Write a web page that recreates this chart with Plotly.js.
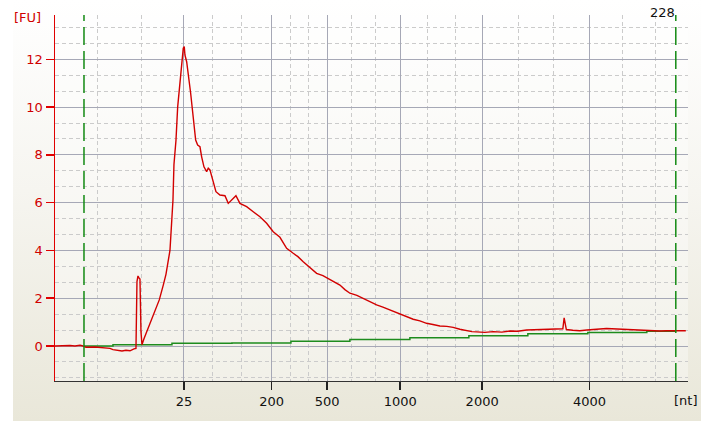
<!DOCTYPE html>
<html>
<head>
<meta charset="utf-8">
<script src="https://cdn.plot.ly/plotly-3.0.1.min.js"></script>
<style>
  html, body { margin: 0; padding: 0; background: #ffffff; }
  #panel { position: absolute; left: 13px; top: 0; width: 688px; height: 421px;
           background: linear-gradient(to bottom, #ffffff 0%, #f6f5f0 45%, #e9e7d9 100%); }
  #chart { position: absolute; left: 0; top: 0; width: 701px; height: 426px; }
</style>
</head>
<body>
<div id="panel"></div>
<div id="chart"></div>
<script>
// Migration time (s) and fluorescence (FU) of the sample trace
const migTime = [18.0, 18.5, 19.0, 19.5, 20.0, 20.5, 20.8, 21.1, 22.0, 23.0, 23.5, 23.8, 24.3, 24.7, 25.1, 25.5, 25.9, 26.1,
  26.2, 26.3, 26.4, 26.5, 26.6, 26.7, 26.9, 27.4, 27.9, 28.43, 28.83, 29.1, 29.3, 29.5, 29.6, 29.7, 29.8, 29.9, 30.1,
  30.27, 30.5, 30.67, 30.83, 30.93, 31.0, 31.17, 31.27, 31.43, 31.57, 31.73, 31.9, 32.07, 32.27, 32.5, 32.67, 32.9,
  33.17, 33.33, 33.5, 33.67, 33.83, 34.1, 34.5, 35.0, 35.33, 35.67, 36.1, 36.5, 37.17, 37.83, 38.5, 39.17, 39.83, 40.5,
  41.17, 41.83, 42.3, 42.83, 43.5, 44.17, 44.8, 45.33, 45.9, 46.5, 47.0, 47.5, 48.2, 48.83, 49.5, 50.17, 50.8, 51.5,
  52.2, 52.83, 53.3, 53.83, 54.5, 55.17, 55.8, 56.5, 57.2, 57.83, 58.5, 59.17, 59.7, 60.17, 61.0, 61.83, 62.7, 63.5,
  64.3, 65.17, 66.0, 66.83, 67.7, 68.5, 68.8, 68.93, 69.05, 69.15, 69.8, 70.5, 71.2, 71.83, 72.5, 73.17, 73.8, 74.5,
  75.2, 75.83, 76.5, 77.17, 77.8, 78.5, 79.2, 79.83, 80.5, 81.1];
const fluor = [0.0, 0.01, -0.01, 0.02, 0.0, 0.03, 0.0, -0.05, -0.04, -0.06, -0.1, -0.15, -0.17, -0.21, -0.18, -0.2, -0.12, -0.1,
  2.7, 2.93, 2.85, 2.8, 0.6, 0.05, 0.3, 0.81, 1.4, 1.93, 2.55, 3.0, 3.5, 4.0, 4.7, 5.4, 6.1, 7.6, 8.6,
  10.0, 11.13, 11.83, 12.46, 12.53, 12.18, 11.9, 11.62, 11.13, 10.58, 9.95, 9.32, 8.62, 8.41, 8.34, 7.92, 7.5,
  7.3, 7.44, 7.37, 7.09, 6.81, 6.46, 6.32, 6.29, 5.97, 6.11, 6.29, 5.97, 5.83, 5.62, 5.41, 5.14, 4.78, 4.55,
  4.09, 3.88, 3.74, 3.53, 3.27, 3.04, 2.95, 2.83, 2.7, 2.55, 2.36, 2.21, 2.12, 2.0, 1.84, 1.72, 1.63, 1.51,
  1.4, 1.3, 1.22, 1.12, 1.05, 0.95, 0.9, 0.84, 0.82, 0.78, 0.7, 0.64, 0.6, 0.59, 0.57, 0.6, 0.58, 0.63,
  0.62, 0.67, 0.68, 0.7, 0.69, 0.7, 0.72, 1.18, 0.95, 0.69, 0.66, 0.64, 0.67, 0.7, 0.71, 0.73, 0.72, 0.71,
  0.69, 0.67, 0.66, 0.64, 0.65, 0.63, 0.64, 0.63, 0.62, 0.64];

// Baseline (step) trace
const baseTime = [20.9, 23.8, 29.7, 35.7, 41.6, 47.5, 53.5, 59.4, 65.3, 71.3, 77.2, 80.1];
const baseFU   = [0.0, 0.05, 0.11, 0.13, 0.2, 0.27, 0.35, 0.43, 0.51, 0.57, 0.62, 0.62];

// Marker positions (green dashed lines)
const markerTimes = [20.9, 80.1];

// Size ladder tick positions and labels
const tickTimes  = [30.9, 39.67, 45.23, 52.53, 60.73, 71.47];
const tickLabels = ['25', '200', '500', '1000', '2000', '4000'];
const minorTimes = [22.3, 26.67, 33.8, 36.67, 41.53, 43.4, 47.67, 50.1, 55.27, 58.03, 64.33, 67.9, 74.73, 78.07, 81.3];

const traces = [
  { x: baseTime, y: baseFU, type: 'scatter', mode: 'lines', line: { color: '#1e8c1e', width: 1.5, shape: 'hv' }, hoverinfo: 'skip' },
  { x: migTime, y: fluor, type: 'scatter', mode: 'lines', line: { color: '#d20000', width: 1.4 }, hoverinfo: 'skip' }
];

const shapes = markerTimes.map(t => ({
  type: 'line', xref: 'x', yref: 'paper', x0: t, x1: t, y0: 0, y1: 1,
  line: { color: '#138a13', width: 1.5, dash: '18px,6px' }, layer: 'above'
}));

const layout = {
  width: 701, height: 426,
  margin: { l: 55, r: 13, t: 15, b: 45 },
  paper_bgcolor: 'rgba(0,0,0,0)',
  plot_bgcolor: 'rgba(255,255,255,0.35)',
  showlegend: false,
  font: { family: 'DejaVu Sans, Verdana, sans-serif', size: 13, color: '#111' },
  xaxis: {
    range: [18, 81.32], tickmode: 'array', tickvals: tickTimes, ticktext: tickLabels,
    showgrid: true, gridcolor: '#a6a8b6', gridwidth: 1,
    showline: true, linecolor: '#333', linewidth: 1,
    ticks: 'outside', ticklen: 8, tickcolor: '#222', tickwidth: 1.5,
    tickfont: { color: '#111', size: 13 }, zeroline: false, fixedrange: true,
    minor: { tickmode: 'array', tickvals: minorTimes, showgrid: true, gridcolor: '#cbcbcb', griddash: '4px,3px', gridwidth: 1, ticks: '' }
  },
  yaxis: {
    range: [-1.465, 13.855], tickmode: 'linear', tick0: 0, dtick: 2,
    showgrid: true, gridcolor: '#a6a8b6', gridwidth: 1,
    showline: true, linecolor: '#e00000', linewidth: 1.5,
    ticks: 'outside', ticklen: 8, tickcolor: '#e00000', tickwidth: 1.5,
    tickfont: { color: '#d00000', size: 13 }, zeroline: false, fixedrange: true,
    minor: { tickmode: 'linear', tick0: 0, dtick: 2/3, showgrid: true, gridcolor: '#cbcbcb', griddash: '4px,3px', gridwidth: 1, ticks: '' }
  },
  shapes: shapes,
  annotations: [
    { text: '[FU]', xref: 'paper', yref: 'paper', x: -0.0442, y: 0.9945, xanchor: 'center', yanchor: 'middle', showarrow: false, font: { color: '#d00000', size: 13 } },
    { text: '228', xref: 'paper', yref: 'paper', x: 0.9605, y: 1.008, xanchor: 'center', yanchor: 'middle', showarrow: false, font: { color: '#111', size: 13 } },
    { text: '[nt]', xref: 'paper', yref: 'paper', x: 0.9968, y: -0.0546, xanchor: 'center', yanchor: 'middle', showarrow: false, font: { color: '#111', size: 13 } }
  ]
};

Plotly.newPlot('chart', traces, layout, { displayModeBar: false, staticPlot: true });
</script>
</body>
</html>
